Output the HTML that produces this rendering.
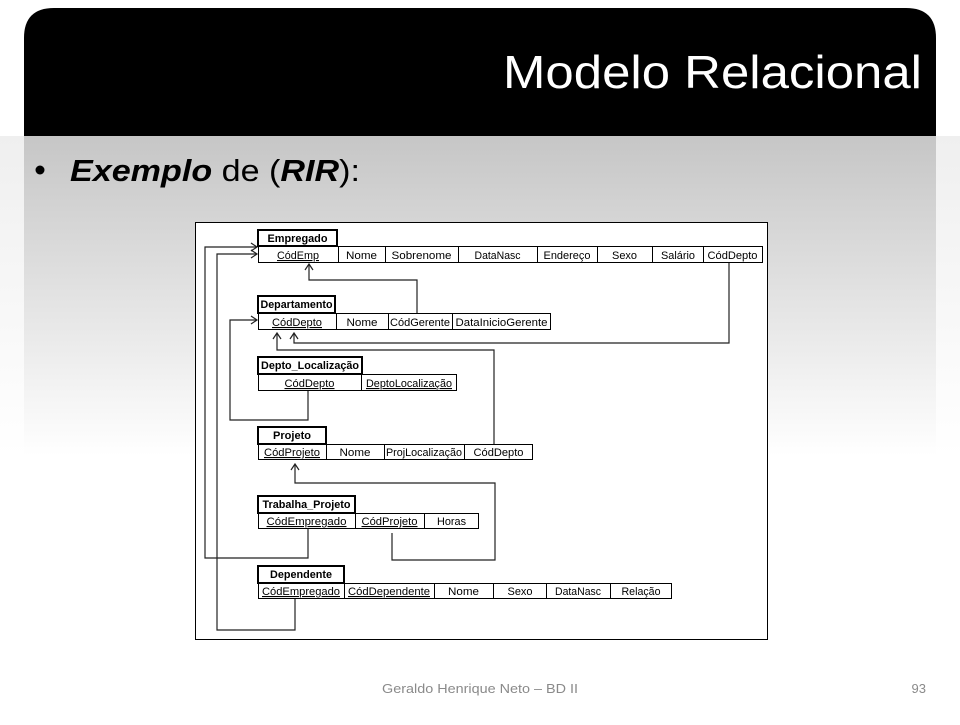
<!DOCTYPE html>
<html><head><meta charset="utf-8"><style>
html,body{margin:0;padding:0;}
body{width:960px;height:720px;overflow:hidden;font-family:"Liberation Sans",sans-serif;}
</style></head><body>
<svg width="960" height="720" viewBox="0 0 960 720" xmlns="http://www.w3.org/2000/svg" font-family="Liberation Sans, sans-serif">
<defs>
<linearGradient id="gi" x1="0" y1="0" x2="0" y2="1">
<stop offset="0" stop-color="#c6c6c6"/><stop offset="1" stop-color="#ffffff"/></linearGradient>
<linearGradient id="go" x1="0" y1="0" x2="0" y2="1">
<stop offset="0" stop-color="#efefef"/><stop offset="1" stop-color="#ffffff"/></linearGradient>
</defs>
<rect width="960" height="720" fill="#fff"/>
<rect x="0" y="136" width="960" height="320" fill="url(#go)"/>
<rect x="24" y="136" width="912" height="320" fill="url(#gi)"/>
<path d="M24,136 V38 Q24,8 54,8 H906 Q936,8 936,38 V136 Z" fill="#000"/>
<text x="922" y="88" text-anchor="end" font-size="46" fill="#fff" textLength="419" lengthAdjust="spacingAndGlyphs">Modelo Relacional</text>
<circle cx="40" cy="170" r="4.5" fill="#000"/>
<text x="70" y="181" font-size="31" fill="#000" textLength="290" lengthAdjust="spacingAndGlyphs"><tspan font-weight="bold" font-style="italic">Exemplo</tspan> de (<tspan font-weight="bold" font-style="italic">RIR</tspan>):</text>
<text x="480" y="693" text-anchor="middle" font-size="13" fill="#8a8a8a" textLength="196" lengthAdjust="spacingAndGlyphs">Geraldo Henrique Neto – BD II</text>
<text x="926" y="693" text-anchor="end" font-size="13" fill="#8a8a8a">93</text>

<rect x="195.5" y="222.5" width="572" height="417" fill="#fff" stroke="#000" stroke-width="1"/>

<g fill="none" stroke="#222" stroke-width="1.2">
<polyline points="417,313 417,280 309,280 309,265"/>
<polyline points="305,270 309,264 313,270"/>
<polyline points="729,263 729,343 294,343 294,334"/>
<polyline points="290,339 294,333 298,339"/>
<polyline points="494,444 494,350 277,350 277,334"/>
<polyline points="273,339 277,333 281,339"/>
<polyline points="308,390 308,420 230,420 230,320 257,320"/>
<polyline points="251,316 257,320 251,324"/>
<polyline points="308,529 308,558 205,558 205,247 257,247"/>
<polyline points="251,243 257,247 251,251"/>
<polyline points="295,599 295,630 217,630 217,254 257,254"/>
<polyline points="251,250 257,254 251,258"/>
<polyline points="392,533 392,560 495,560 495,483 295,483 295,465"/>
<polyline points="291,470 295,464 299,470"/>
</g>

<g font-size="11" fill="#000" text-anchor="middle">
<rect x="258" y="230" width="79" height="16" fill="#fff" stroke="#000" stroke-width="2"/>
<text x="297.5" y="242" font-weight="bold" textLength="60" lengthAdjust="spacingAndGlyphs">Empregado</text>
<rect x="258.5" y="246.5" width="504" height="16" fill="#fff" stroke="#000"/>
<g stroke="#000" stroke-width="1">
<line x1="338.5" y1="246" x2="338.5" y2="263"/><line x1="385.5" y1="246" x2="385.5" y2="263"/>
<line x1="458.5" y1="246" x2="458.5" y2="263"/><line x1="537.5" y1="246" x2="537.5" y2="263"/>
<line x1="597.5" y1="246" x2="597.5" y2="263"/><line x1="652.5" y1="246" x2="652.5" y2="263"/>
<line x1="703.5" y1="246" x2="703.5" y2="263"/>
</g>
<text x="298" y="259" text-decoration="underline" textLength="42" lengthAdjust="spacingAndGlyphs">CódEmp</text>
<text x="361.5" y="259" textLength="31" lengthAdjust="spacingAndGlyphs">Nome</text>
<text x="421.5" y="259" textLength="60" lengthAdjust="spacingAndGlyphs">Sobrenome</text>
<text x="497.5" y="259" textLength="46" lengthAdjust="spacingAndGlyphs">DataNasc</text>
<text x="567" y="259" textLength="47" lengthAdjust="spacingAndGlyphs">Endereço</text>
<text x="624.5" y="259" textLength="25" lengthAdjust="spacingAndGlyphs">Sexo</text>
<text x="678" y="259" textLength="34" lengthAdjust="spacingAndGlyphs">Salário</text>
<text x="732.5" y="259" textLength="50" lengthAdjust="spacingAndGlyphs">CódDepto</text>

<rect x="258" y="296" width="77" height="17" fill="#fff" stroke="#000" stroke-width="2"/>
<text x="296.5" y="308" font-weight="bold" textLength="72" lengthAdjust="spacingAndGlyphs">Departamento</text>
<rect x="258.5" y="313.5" width="292" height="16" fill="#fff" stroke="#000"/>
<g stroke="#000"><line x1="336.5" y1="313" x2="336.5" y2="330"/><line x1="388.5" y1="313" x2="388.5" y2="330"/><line x1="452.5" y1="313" x2="452.5" y2="330"/></g>
<text x="297" y="326" text-decoration="underline" textLength="50" lengthAdjust="spacingAndGlyphs">CódDepto</text>
<text x="362" y="326" textLength="31" lengthAdjust="spacingAndGlyphs">Nome</text>
<text x="420" y="326" textLength="60" lengthAdjust="spacingAndGlyphs">CódGerente</text>
<text x="501.5" y="326" textLength="92" lengthAdjust="spacingAndGlyphs">DataInicioGerente</text>

<rect x="258" y="357" width="104" height="17" fill="#fff" stroke="#000" stroke-width="2"/>
<text x="310" y="369" font-weight="bold" textLength="98" lengthAdjust="spacingAndGlyphs">Depto_Localização</text>
<rect x="258.5" y="374.5" width="198" height="16" fill="#fff" stroke="#000"/>
<line x1="361.5" y1="374" x2="361.5" y2="391" stroke="#000"/>
<text x="309.5" y="387" text-decoration="underline" textLength="50" lengthAdjust="spacingAndGlyphs">CódDepto</text>
<text x="409" y="387" text-decoration="underline" textLength="86" lengthAdjust="spacingAndGlyphs">DeptoLocalização</text>

<rect x="258" y="427" width="68" height="17" fill="#fff" stroke="#000" stroke-width="2"/>
<text x="292" y="439" font-weight="bold" textLength="38" lengthAdjust="spacingAndGlyphs">Projeto</text>
<rect x="258.5" y="444.5" width="274" height="15" fill="#fff" stroke="#000"/>
<g stroke="#000"><line x1="326.5" y1="444" x2="326.5" y2="460"/><line x1="384.5" y1="444" x2="384.5" y2="460"/><line x1="464.5" y1="444" x2="464.5" y2="460"/></g>
<text x="292" y="456" text-decoration="underline" textLength="56" lengthAdjust="spacingAndGlyphs">CódProjeto</text>
<text x="355" y="456" textLength="31" lengthAdjust="spacingAndGlyphs">Nome</text>
<text x="424" y="456" textLength="76" lengthAdjust="spacingAndGlyphs">ProjLocalização</text>
<text x="498.5" y="456" textLength="50" lengthAdjust="spacingAndGlyphs">CódDepto</text>

<rect x="258" y="496" width="97" height="17" fill="#fff" stroke="#000" stroke-width="2"/>
<text x="306.5" y="508" font-weight="bold" textLength="88" lengthAdjust="spacingAndGlyphs">Trabalha_Projeto</text>
<rect x="258.5" y="513.5" width="220" height="15" fill="#fff" stroke="#000"/>
<g stroke="#000"><line x1="355.5" y1="513" x2="355.5" y2="529"/><line x1="424.5" y1="513" x2="424.5" y2="529"/></g>
<text x="306.5" y="525" text-decoration="underline" textLength="80" lengthAdjust="spacingAndGlyphs">CódEmpregado</text>
<text x="389.5" y="525" text-decoration="underline" textLength="56" lengthAdjust="spacingAndGlyphs">CódProjeto</text>
<text x="451.5" y="525" textLength="29" lengthAdjust="spacingAndGlyphs">Horas</text>

<rect x="258" y="566" width="86" height="17" fill="#fff" stroke="#000" stroke-width="2"/>
<text x="301" y="578" font-weight="bold" textLength="62" lengthAdjust="spacingAndGlyphs">Dependente</text>
<rect x="258.5" y="583.5" width="413" height="15" fill="#fff" stroke="#000"/>
<g stroke="#000"><line x1="344.5" y1="583" x2="344.5" y2="599"/><line x1="434.5" y1="583" x2="434.5" y2="599"/><line x1="493.5" y1="583" x2="493.5" y2="599"/><line x1="546.5" y1="583" x2="546.5" y2="599"/><line x1="610.5" y1="583" x2="610.5" y2="599"/></g>
<text x="301" y="595" text-decoration="underline" textLength="78" lengthAdjust="spacingAndGlyphs">CódEmpregado</text>
<text x="389" y="595" text-decoration="underline" textLength="82" lengthAdjust="spacingAndGlyphs">CódDependente</text>
<text x="463.5" y="595" textLength="31" lengthAdjust="spacingAndGlyphs">Nome</text>
<text x="520" y="595" textLength="25" lengthAdjust="spacingAndGlyphs">Sexo</text>
<text x="578" y="595" textLength="46" lengthAdjust="spacingAndGlyphs">DataNasc</text>
<text x="641" y="595" textLength="39" lengthAdjust="spacingAndGlyphs">Relação</text>
</g>
</svg>
</body></html>
